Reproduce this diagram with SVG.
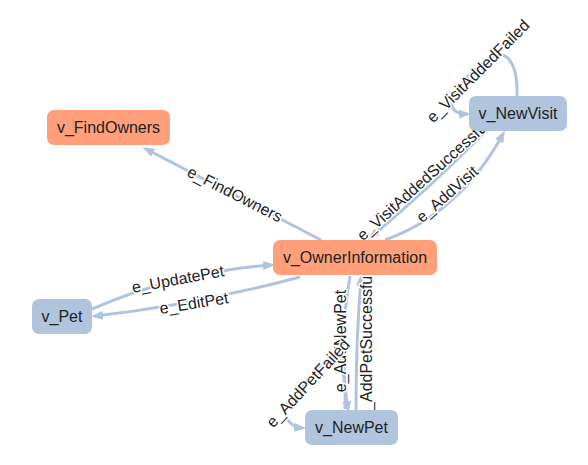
<svg xmlns="http://www.w3.org/2000/svg" width="588" height="465" viewBox="0 0 588 465">
<defs>
<style>
.edge{fill:none;stroke:#b0c4de;stroke-width:3;marker-end:url(#arr)}
.el{font-family:"Liberation Sans",Arial,sans-serif;font-size:16px;fill:#222;text-anchor:middle;stroke:#fff;stroke-width:3;stroke-linejoin:round;paint-order:stroke}
.nt{font-family:"Liberation Sans",Arial,sans-serif;font-size:16px;fill:#222;text-anchor:middle}
.salmon{fill:#ffa07a}
.blue{fill:#b0c4de}
</style>
<marker id="arr" markerUnits="userSpaceOnUse" markerWidth="12" markerHeight="10" refX="8" refY="4.5" orient="auto">
<path d="M0,0 L12,4.5 L0,9 z" fill="#b0c4de"/>
</marker>
</defs>
<rect width="588" height="465" fill="#fff"/>
<g id="connectors">
<path class="edge" d="M321,240 L146,149"/>
<path class="edge" d="M92,309 Q178,272 271,265"/>
<path class="edge" d="M300,277 Q195,305 95,316"/>
<path class="edge" d="M385,240 Q460,213 503,134"/>
<path class="edge" d="M486,131 Q432,186 371,237"/>
<path class="edge" d="M517,96 C518,60 505,50 492,57 C470,70 455,90 452,102 C450,110 458,114 467,114"/>
<path class="edge" d="M350,276 Q338,345 348,409"/>
<path class="edge" d="M356,410 Q356,340 361,278"/>
<path class="edge" d="M345,409 C346,380 342,352 333,356 C316,370 296,390 287,405 C282,416 290,427 302,428"/>
<text class="el" transform="translate(235,194) rotate(27)" dy="0.35em">e_FindOwners</text>
<text class="el" transform="translate(178,279) rotate(-10.5)" dy="0.35em">e_UpdatePet</text>
<text class="el" transform="translate(194,303) rotate(-9)" dy="0.35em">e_EditPet</text>
<text class="el" transform="translate(447,194) rotate(-41.5)" dy="0.35em">e_AddVisit</text>
<text class="el" transform="translate(423,180) rotate(-42)" dy="0.35em">e_VisitAddedSuccessful</text>
<text class="el" transform="translate(478,71) rotate(-45)" dy="0.35em">e_VisitAddedFailed</text>
<text class="el" transform="translate(340,341) rotate(-90)" dy="0.35em">e_AddNewPet</text>
<text class="el" transform="translate(366,346) rotate(-90)" dy="0.35em">e_AddPetSuccessful</text>
<text class="el" transform="translate(308,383) rotate(-47)" dy="0.35em">e_AddPetFailed</text>
</g>
<g id="v_FindOwners">
<rect class="salmon" x="47" y="110" width="123" height="35" rx="7"/>
<text class="nt" x="108.5" y="133">v_FindOwners</text>
</g>
<g id="v_OwnerInformation">
<rect class="salmon" x="273" y="240" width="164" height="35" rx="7"/>
<text class="nt" x="355" y="263">v_OwnerInformation</text>
</g>
<g id="v_NewVisit">
<rect class="blue" x="469" y="96" width="98" height="35" rx="7"/>
<text class="nt" x="518" y="119">v_NewVisit</text>
</g>
<g id="v_Pet">
<rect class="blue" x="32" y="299" width="60" height="35" rx="7"/>
<text class="nt" x="62" y="322">v_Pet</text>
</g>
<g id="v_NewPet">
<rect class="blue" x="305" y="410" width="93" height="35" rx="7"/>
<text class="nt" x="351.5" y="433">v_NewPet</text>
</g>
</svg>
